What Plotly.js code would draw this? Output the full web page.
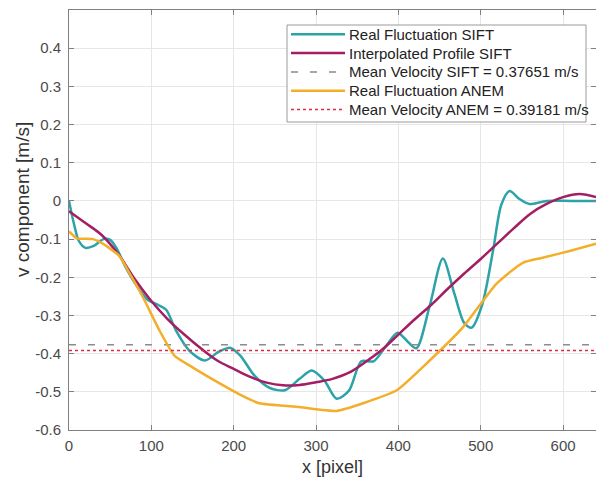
<!DOCTYPE html>
<html>
<head>
<meta charset="utf-8">
<script src="https://cdn.plot.ly/plotly-3.0.1.min.js"></script>
<style>
html,body{margin:0;padding:0;overflow:hidden;background:#fff;}
#chart{width:600px;height:481px;}
</style>
</head>
<body>
<div id="chart"></div>
<script>
// Real Fluctuation SIFT
const siftX = [0,6,12,20,30,42,50,58,68,80,95,108,118,130,146,165,182,196,208,225,244,262,280,295,310,325,340,355,370,385,399,412,422,438,454,468,480,489,502,515,525,535,547,559,580,610,640];
const siftY = [0.0,-0.06,-0.105,-0.123,-0.118,-0.100,-0.102,-0.125,-0.170,-0.215,-0.258,-0.272,-0.285,-0.340,-0.392,-0.418,-0.395,-0.385,-0.405,-0.457,-0.490,-0.496,-0.466,-0.444,-0.470,-0.518,-0.497,-0.420,-0.420,-0.380,-0.345,-0.370,-0.386,-0.275,-0.151,-0.243,-0.320,-0.332,-0.270,-0.130,-0.010,0.026,0.005,-0.008,0.000,0.000,0.000];
// Interpolated Profile SIFT
const interpX = [0,20,40,60,80,100,120,140,160,180,200,220,240,260,280,300,320,340,360,380,400,420,440,460,480,500,520,540,560,580,600,620,640];
const interpY = [-0.027,-0.058,-0.090,-0.140,-0.205,-0.262,-0.310,-0.350,-0.386,-0.418,-0.440,-0.461,-0.476,-0.483,-0.482,-0.475,-0.466,-0.450,-0.422,-0.390,-0.350,-0.310,-0.272,-0.230,-0.190,-0.152,-0.112,-0.072,-0.034,-0.008,0.010,0.018,0.010];
// Real Fluctuation ANEM
const anemX = [0,10,29,41,61,75,90,110,128,150,183,210,231,280,325,357,398,438,478,519,551,575,608,640];
const anemY = [-0.080,-0.098,-0.100,-0.112,-0.144,-0.195,-0.253,-0.340,-0.405,-0.436,-0.478,-0.510,-0.530,-0.540,-0.550,-0.530,-0.496,-0.418,-0.332,-0.217,-0.162,-0.149,-0.131,-0.112];
// Mean velocities
const meanX = [0, 640];
const meanSIFT = -0.37651;
const meanANEM = -0.39181;
const names = ["Real Fluctuation SIFT","Interpolated Profile SIFT","Mean Velocity SIFT = 0.37651 m/s","Real Fluctuation ANEM","Mean Velocity ANEM = 0.39181 m/s"];
// Ticks
const xTicks = [0,100,200,300,400,500,600];
const yTicks = [-0.6,-0.5,-0.4,-0.3,-0.2,-0.1,0,0.1,0.2,0.3,0.4];
const yTickText = ["-0.6","-0.5","-0.4","-0.3","-0.2","-0.1","0","0.1","0.2","0.3","0.4"];
const xTitle = 'x [pixel]';
const yTitle = 'v component [m/s]';

const FONT = 'Liberation Sans, Arial, Helvetica, sans-serif';

const styles = [
  {color: '#2ba3a8', width: 2.5, shape: 'spline', smoothing: 0.8},
  {color: '#a31e63', width: 2.5, shape: 'spline', smoothing: 1},
  {color: '#8c8c8c', width: 1.5, dash: '7px,12px'},
  {color: '#f3ae2a', width: 2.5, shape: 'spline', smoothing: 0.5},
  {color: '#e0284a', width: 1.5, dash: 'dot'}
];

const traces = [
  {x: siftX, y: siftY, name: names[0], mode: 'lines', line: styles[0]},
  {x: interpX, y: interpY, name: names[1], mode: 'lines', line: styles[1]},
  {x: meanX, y: [meanSIFT, meanSIFT], name: names[2], mode: 'lines', line: styles[2]},
  {x: anemX, y: anemY, name: names[3], mode: 'lines', line: styles[3]},
  {x: meanX, y: [meanANEM, meanANEM], name: names[4], mode: 'lines', line: styles[4]}
];

// Custom MATLAB-style legend box (paper coordinates)
const plotL = 69, plotW = 527, plotT = 10, plotH = 420;
const px2x = p => (p - plotL) / plotW;
const py2y = p => (plotT + plotH - p) / plotH;
const legShapes = [{type: 'rect', xref: 'paper', yref: 'paper', x0: px2x(287), x1: px2x(586), y0: py2y(122), y1: py2y(25),
  fillcolor: '#ffffff', line: {color: '#9a9a9a', width: 1}, layer: 'above'}];
const anns = [];
names.forEach((n, i) => {
  const rowY = 34.3 + i * 18.8;
  legShapes.push({type: 'line', xref: 'paper', yref: 'paper', x0: px2x(291), x1: px2x(345), y0: py2y(rowY), y1: py2y(rowY),
    line: {color: styles[i].color, width: styles[i].width, dash: styles[i].dash || 'solid'}, layer: 'above'});
  anns.push({xref: 'paper', yref: 'paper', x: px2x(347), y: py2y(rowY), xanchor: 'left', yanchor: 'middle',
    text: n, showarrow: false, font: {family: FONT, size: 15, color: '#222'}});
});
// y-axis label placed like the reference
anns.push({xref: 'paper', yref: 'paper', x: px2x(23), y: py2y(200), xanchor: 'center', yanchor: 'middle',
  text: yTitle, textangle: -90, showarrow: false, font: {family: FONT, size: 19, color: '#333'}});

const axisCommon = {
  showline: true, linecolor: '#808080', linewidth: 1, mirror: 'ticks',
  ticks: 'inside', ticklen: 5, tickcolor: '#808080',
  showgrid: true, gridcolor: '#e6e6e6', gridwidth: 1,
  zeroline: false,
  tickfont: {family: FONT, size: 15, color: '#4a4a4a'}
};

const layout = {
  width: 600, height: 481,
  margin: {l: plotL, r: 600 - plotL - plotW, t: plotT, b: 481 - plotT - plotH},
  paper_bgcolor: '#fff', plot_bgcolor: '#fff',
  showlegend: false,
  font: {family: FONT, size: 15, color: '#333'},
  xaxis: Object.assign({}, axisCommon, {
    range: [0, 640], tickvals: xTicks, ticklabelstandoff: 2,
    title: {text: xTitle, font: {family: FONT, size: 18, color: '#333'}, standoff: 7}
  }),
  yaxis: Object.assign({}, axisCommon, {
    range: [-0.6, 0.5], tickvals: yTicks, ticktext: yTickText, ticklabelstandoff: 4
  }),
  shapes: legShapes,
  annotations: anns
};

Plotly.newPlot('chart', traces, layout, {displayModeBar: false, staticPlot: true});
</script>
</body>
</html>
